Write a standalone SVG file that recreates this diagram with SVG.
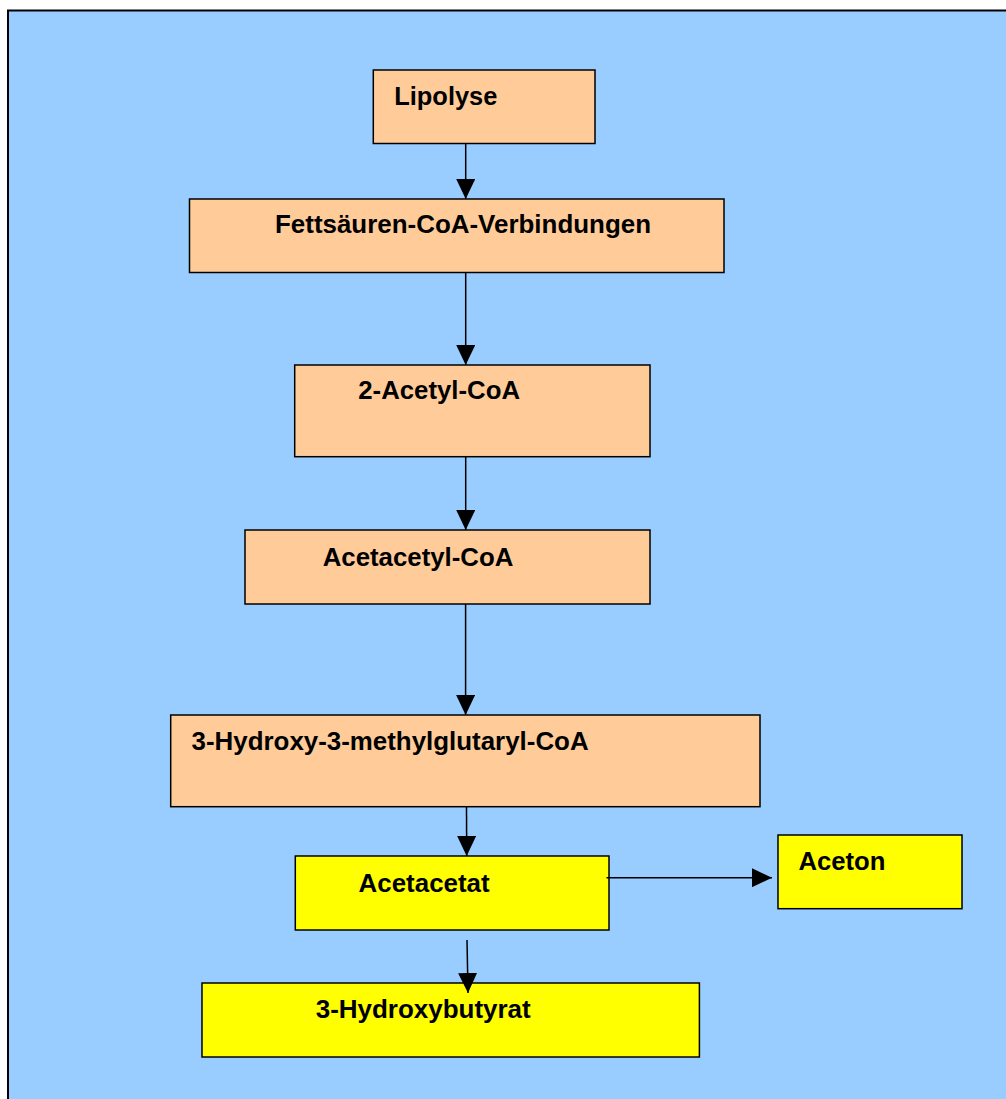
<svg xmlns="http://www.w3.org/2000/svg" width="1006" height="1099" viewBox="0 0 1006 1099">
  <style>
    .node rect { stroke: #000; stroke-width: 1.5; }
    .orange rect { fill: #FFCC99; }
    .yellow rect { fill: #FFFF00; }
    .node text { font-family: "Liberation Sans", Arial, sans-serif; font-weight: bold; font-size: 25px; fill: #000; }
    .edge { stroke: #000; stroke-width: 1.5; fill: none; marker-end: url(#arrow); }
  </style>
  <defs>
    <marker id="arrow" viewBox="0 0 20 19" refX="20" refY="9.5" markerWidth="20" markerHeight="19" markerUnits="userSpaceOnUse" orient="auto">
      <path d="M0,0 L20,9.5 L0,19 Z" fill="#000"/>
    </marker>
  </defs>

  <!-- background panel -->
  <rect x="0" y="0" width="1006" height="1099" fill="#FFFFFF"/>
  <rect x="8" y="10.5" width="1010" height="1100" fill="#99CCFF" stroke="#000" stroke-width="2"/>

  <!-- nodes -->
  <g id="lipolyse" class="node orange">
    <rect x="373.3" y="70" width="221.7" height="73.5"/>
    <text x="394.3" y="104.5" textLength="103" lengthAdjust="spacingAndGlyphs">Lipolyse</text>
  </g>
  <g id="fettsaeuren" class="node orange">
    <rect x="189.5" y="199" width="534.5" height="73.5"/>
    <text x="275" y="233" textLength="376" lengthAdjust="spacingAndGlyphs">Fettsäuren-CoA-Verbindungen</text>
  </g>
  <g id="acetyl-coa" class="node orange">
    <rect x="294.7" y="365" width="355.3" height="91.7"/>
    <text x="358.3" y="399" textLength="161.7" lengthAdjust="spacingAndGlyphs">2-Acetyl-CoA</text>
  </g>
  <g id="acetacetyl-coa" class="node orange">
    <rect x="245" y="530" width="405" height="74"/>
    <text x="322.7" y="566" textLength="190.7" lengthAdjust="spacingAndGlyphs">Acetacetyl-CoA</text>
  </g>
  <g id="hmg-coa" class="node orange">
    <rect x="170.7" y="715" width="589.3" height="91.7"/>
    <text x="191.6" y="750" textLength="397" lengthAdjust="spacingAndGlyphs">3-Hydroxy-3-methylglutaryl-CoA</text>
  </g>
  <g id="acetacetat" class="node yellow">
    <rect x="295.3" y="856" width="313.7" height="74"/>
    <text x="358.6" y="891.5" textLength="131" lengthAdjust="spacingAndGlyphs">Acetacetat</text>
  </g>
  <g id="aceton" class="node yellow">
    <rect x="778" y="835" width="184" height="73.7"/>
    <text x="798.4" y="870" textLength="87" lengthAdjust="spacingAndGlyphs">Aceton</text>
  </g>
  <g id="hydroxybutyrat" class="node yellow">
    <rect x="202" y="983" width="497.4" height="74"/>
    <text x="315.7" y="1018" textLength="215" lengthAdjust="spacingAndGlyphs">3-Hydroxybutyrat</text>
  </g>

  <!-- connectors, drawn above the boxes -->
  <g id="connectors">
    <line class="edge" x1="465.7" y1="144" x2="465.7" y2="199"/>
    <line class="edge" x1="465.7" y1="273" x2="465.7" y2="365"/>
    <line class="edge" x1="465.7" y1="457" x2="465.7" y2="530"/>
    <line class="edge" x1="465.6" y1="604" x2="465.6" y2="715"/>
    <line class="edge" x1="466.5" y1="807" x2="466.7" y2="856"/>
    <line class="edge" x1="606.5" y1="877.7" x2="772" y2="877.7"/>
    <line class="edge" x1="467" y1="940" x2="468" y2="993"/>
  </g>
</svg>
